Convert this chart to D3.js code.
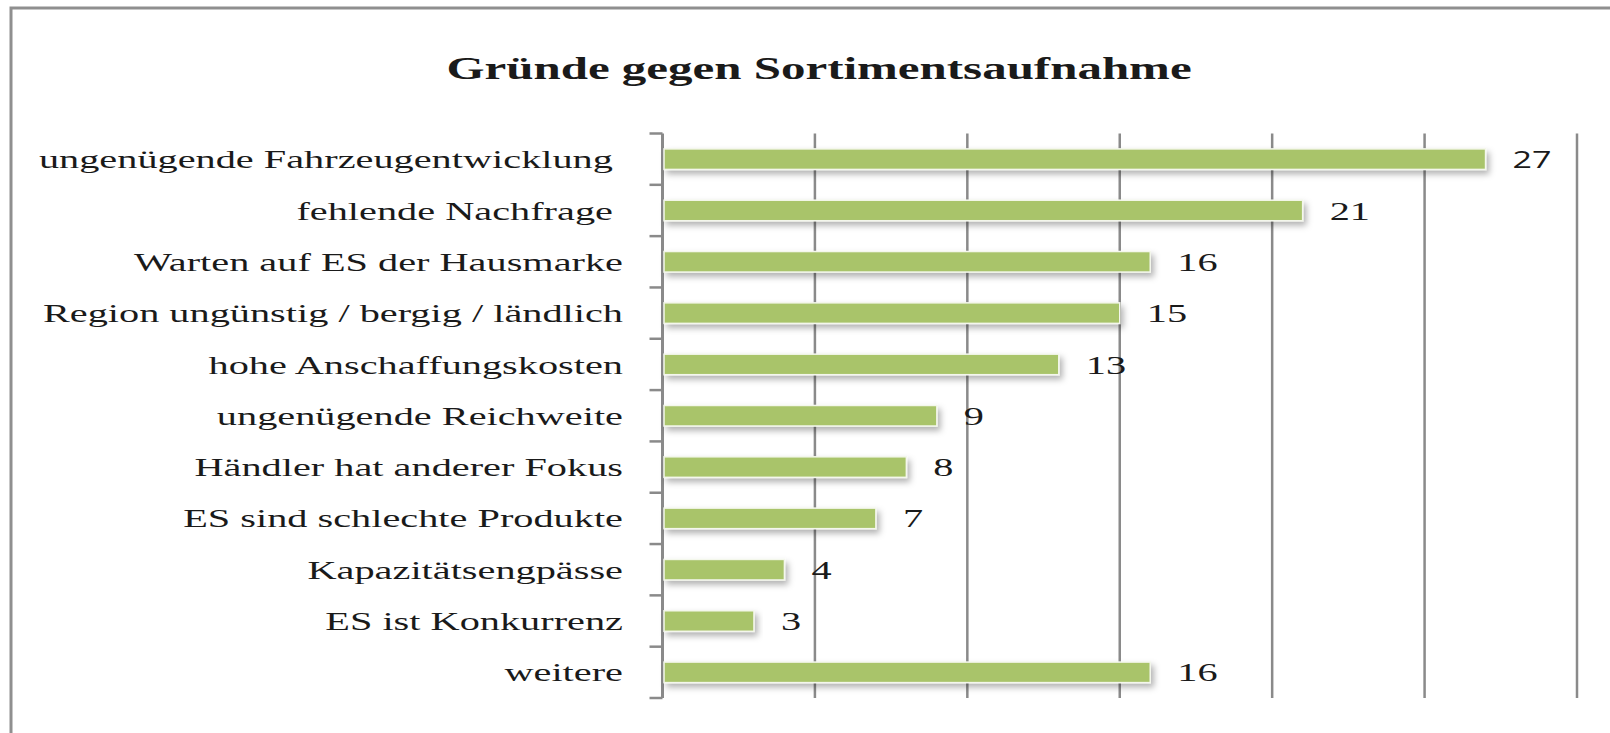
<!DOCTYPE html>
<html>
<head>
<meta charset="utf-8">
<script src="https://cdn.jsdelivr.net/npm/d3@7"></script>
<style>
  body { margin: 0; background: #fff; }
  text { font-family: "Liberation Serif", "DejaVu Serif", serif; fill: #1a1a1a; }
</style>
</head>
<body>
<div id="chart"></div>
<script>
const categories = [
  "ungenügende Fahrzeugentwicklung ",
  "fehlende Nachfrage ",
  "Warten auf ES der Hausmarke",
  "Region ungünstig / bergig / ländlich",
  "hohe Anschaffungskosten",
  "ungenügende Reichweite",
  "Händler hat anderer Fokus",
  "ES sind schlechte Produkte",
  "Kapazitätsengpässe",
  "ES ist Konkurrenz",
  "weitere"
];
const values = [27, 21, 16, 15, 13, 9, 8, 7, 4, 3, 16];
const xTicks = [0, 5, 10, 15, 20, 25, 30];
const title = "Gründe gegen Sortimentsaufnahme";

const width = 1610;
const height = 733;
const stretch = 1.55;
const margin = { top: 133.5, right: 33, bottom: 35, left: 662.5 };

const svg = d3.select("#chart")
  .append("svg")
  .attr("width", width)
  .attr("height", height);

const defs = svg.append("defs");
const shadow = defs.append("filter")
  .attr("id", "shadow")
  .attr("x", "-5%").attr("y", "-40%")
  .attr("width", "115%").attr("height", "200%");
shadow.append("feDropShadow")
  .attr("dx", 3).attr("dy", 4)
  .attr("stdDeviation", 3)
  .attr("flood-color", "#000")
  .attr("flood-opacity", 0.3);

// frame (only top + left visible)
svg.append("path")
  .attr("d", "M11," + height + "V8H" + width)
  .attr("fill", "none")
  .attr("stroke", "#8f8f8f")
  .attr("stroke-width", 3);

const x = d3.scaleLinear()
  .domain([0, 30])
  .range([margin.left, width - margin.right]);

const y = d3.scaleBand()
  .domain(categories)
  .range([margin.top, height - margin.bottom]);

// gridlines
svg.append("g")
  .selectAll("line")
  .data(xTicks.slice(1))
  .join("line")
  .attr("x1", d => x(d))
  .attr("x2", d => x(d))
  .attr("y1", margin.top)
  .attr("y2", height - margin.bottom)
  .attr("stroke", "#8a8a8a")
  .attr("stroke-width", 2.5);

// y axis with ticks at band edges
const edges = categories.map(c => y(c)).concat([y.range()[1]]);
const axis = svg.append("g").attr("class", "y axis");
axis.append("line")
  .attr("x1", x(0)).attr("x2", x(0))
  .attr("y1", margin.top).attr("y2", height - margin.bottom)
  .attr("stroke", "#8a8a8a")
  .attr("stroke-width", 3);
axis.selectAll(".tick")
  .data(edges)
  .join("line")
  .attr("class", "tick")
  .attr("x1", x(0) - 13).attr("x2", x(0))
  .attr("y1", d => d).attr("y2", d => d)
  .attr("stroke", "#8a8a8a")
  .attr("stroke-width", 2.5);

const barH = y.bandwidth() * 0.4;

svg.append("g")
  .selectAll("rect")
  .data(values)
  .join("rect")
  .attr("x", x(0) + 1.5)
  .attr("y", (d, i) => y(categories[i]) + (y.bandwidth() - barH) / 2)
  .attr("width", d => x(d) - x(0) - 1.5)
  .attr("height", barH)
  .attr("fill", "#a9c46b")
  .attr("stroke", "#f4f7ec")
  .attr("stroke-width", 1.5)
  .attr("filter", "url(#shadow)");

// category labels
svg.append("g")
  .selectAll("text")
  .data(categories)
  .join("text")
  .attr("transform", d => "translate(623," + (y(d) + y.bandwidth() / 2) + ") scale(" + stretch + ",1)")
  .attr("text-anchor", "end")
  .attr("dy", "0.35em")
  .attr("font-size", 26)
  .style("white-space", "pre")
  .text(d => d);

// value labels (first one rendered in a sans face, as in the original)
svg.append("g")
  .selectAll("text")
  .data(values)
  .join("text")
  .attr("transform", (d, i) => "translate(" + (x(d) + 27) + "," + (y(categories[i]) + y.bandwidth() / 2) + ") scale(" + (i === 0 ? 1.42 : stretch) + ",1)")
  .attr("dy", "0.35em")
  .style("font-family", (d, i) => i === 0 ? "'Open Sans', 'DejaVu Sans', sans-serif" : null)
  .attr("font-size", (d, i) => i === 0 ? 24 : 26)
  .text(d => d);

// title
svg.append("text")
  .attr("transform", "translate(819,79) scale(1.58,1)")
  .attr("text-anchor", "middle")
  .attr("font-size", 31)
  .attr("font-weight", "bold")
  .text(title);
</script>
</body>
</html>
